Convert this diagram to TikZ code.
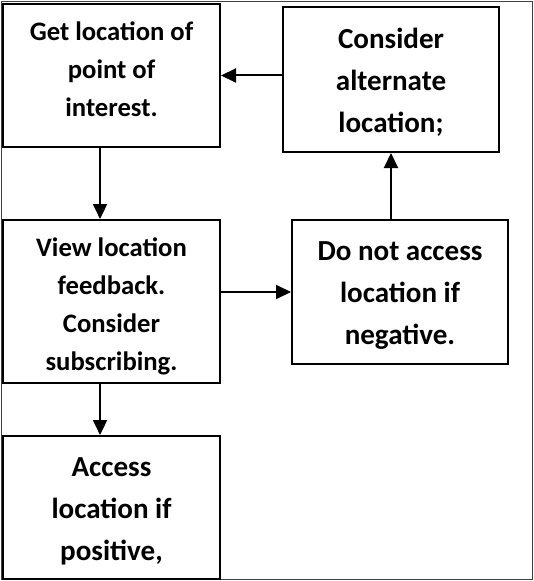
\documentclass[tikz,border=0pt]{standalone}
\usepackage{fontspec}
\setmainfont{Carlito}
\usetikzlibrary{arrows.meta}
\tikzset{every picture/.style={line width=0.75pt}}

\begin{document}
\begin{tikzpicture}[x=0.75pt,y=0.75pt,yscale=-1,xscale=1,
  stepbox/.style={draw, line width=1.5pt, inner sep=0pt, minimum width=162.75pt},
  smalltxt/.style={align=center, font=\fontsize{20}{28.5}\selectfont\bfseries},
  bigtxt/.style={align=center, font=\fontsize{21.8}{31.5}\selectfont\bfseries},
  arr/.style={line width=1.5pt, -{Triangle[length=11.25pt,width=10.5pt]}}]
\useasboundingbox (0,0) rectangle (533,581);

%Outer frame
\draw [color={rgb, 255:red, 64; green, 64; blue, 64 }] (1,1.5) rectangle (532,579.5) ;

%Boxes
\node [stepbox, minimum height=107.25pt, label={[smalltxt, yshift=5pt]center:Get location of\\point of\\interest.}] (getloc) at (111.5,75.5) {};
\node [stepbox, minimum width=162pt, minimum height=108.75pt, label={[bigtxt, yshift=-2.25pt]center:Consider\\alternate\\location;}] (altloc) at (391,79.5) {};
\node [stepbox, minimum height=122.25pt, label={[smalltxt, yshift=-4pt]center:View location\\feedback.\\Consider\\subscribing.}] (feedback) at (111.5,301.5) {};
\node [stepbox, minimum width=162pt, minimum height=108pt, label={[bigtxt, yshift=-3pt]center:Do not access\\location if\\negative.}] (negative) at (400,292) {};
\node [stepbox, minimum height=107.25pt, label={[bigtxt, yshift=-3pt]center:Access\\location if\\positive,}] (positive) at (111.5,507.5) {};

%Arrows
\draw [arr] (altloc.west |- getloc.east) -- (getloc.east) ;
\draw [arr] ([xshift=-8.6pt]getloc.south) -- ([xshift=-8.6pt]feedback.north) ;
\draw [arr] (feedback.east |- negative.west) -- (negative.west) ;
\draw [arr] (negative.north -| altloc.south) -- (altloc.south) ;
\draw [arr] ([xshift=-8.6pt]feedback.south) -- ([xshift=-8.6pt]positive.north) ;

\end{tikzpicture}
\end{document}
